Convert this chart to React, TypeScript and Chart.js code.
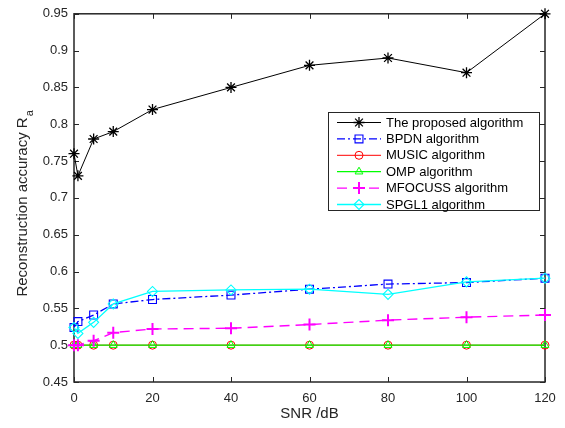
import React, { useEffect, useRef } from 'react';
import { Chart, registerables } from 'chart.js';
import { drawPoint } from 'chart.js/helpers';

Chart.register(...registerables);

const snr = [0, 1, 5, 10, 20, 40, 60, 80, 100, 120];
const proposed = [0.76, 0.73, 0.78, 0.79, 0.82, 0.85, 0.88, 0.89, 0.87, 0.95];
const bpdn = [0.524, 0.532, 0.541, 0.556, 0.562, 0.568, 0.576, 0.583, 0.585, 0.591];
const music = [0.5, 0.5, 0.5, 0.5, 0.5, 0.5, 0.5, 0.5, 0.5, 0.5];
const omp = [0.5, 0.5, 0.5, 0.5, 0.5, 0.5, 0.5, 0.5, 0.5, 0.5];
const mfocuss = [0.5, 0.5, 0.506, 0.517, 0.522, 0.523, 0.528, 0.534, 0.538, 0.541];
const spgl1 = [0.524, 0.516, 0.531, 0.556, 0.573, 0.575, 0.576, 0.569, 0.586, 0.591];

const seriesNames = [
  'The proposed algorithm',
  'BPDN algorithm',
  'MUSIC algorithm',
  'OMP algorithm',
  'MFOCUSS algorithm',
  'SPGL1 algorithm',
];

const xTicks = [0, 20, 40, 60, 80, 100, 120];
const yTicks = [0.45, 0.5, 0.55, 0.6, 0.65, 0.7, 0.75, 0.8, 0.85, 0.9, 0.95];
const yTickLabels = ['0.45', '0.5', '0.55', '0.6', '0.65', '0.7', '0.75', '0.8', '0.85', '0.9', '0.95'];
const xTitle = 'SNR /dB';
const yTitle = 'Reconstruction accuracy R';
const yTitleSub = 'a';

const FONT = '"Liberation Sans", Arial, Helvetica, sans-serif';
const INK = '#262626';

export default function App() {
  const ref = useRef<HTMLCanvasElement>(null);

  useEffect(() => {
    const canvas = ref.current;
    if (!canvas) return;

    const mk = (
      i: number,
      data: number[],
      color: string,
      style: any,
      radius: number,
      dash: number[],
      width: number,
      markerWidth: number
    ) => ({
      label: seriesNames[i],
      data: snr.map((x, k) => ({ x, y: data[k] })),
      borderColor: color,
      backgroundColor: 'rgba(0,0,0,0)',
      pointBackgroundColor: 'rgba(0,0,0,0)',
      pointBorderColor: color,
      pointStyle: style,
      pointRadius: radius,
      pointBorderWidth: markerWidth,
      borderWidth: width,
      borderDash: dash,
      tension: 0,
      fill: false,
      clip: false as any,
      order: 6 - i,
    });

    const datasets = [
      mk(0, proposed, '#000000', 'star', 5.5, [], 1, 1.3),
      mk(1, bpdn, '#0000ff', 'rect', 5.6, [8, 3, 2, 3], 1.3, 1.1),
      mk(2, music, '#ff0000', 'circle', 4, [], 1, 1),
      mk(3, omp, '#00ff00', 'triangle', 4.5, [], 1.3, 1),
      mk(4, mfocuss, '#ff00ff', 'cross', 6, [10, 6], 1.4, 2),
      mk(5, spgl1, '#00ffff', 'rectRot', 5, [], 1.3, 1.1),
    ];

    const axesPlugin = {
      id: 'matlabAxes',
      beforeDatasetsDraw(chart: any) {
        const { ctx, chartArea } = chart;
        const { left, right, top, bottom } = chartArea;
        const xs = chart.scales.x;
        const ys = chart.scales.y;
        ctx.save();
        ctx.strokeStyle = INK;
        ctx.lineWidth = 1.5;
        ctx.strokeRect(left, top, right - left, bottom - top);
        ctx.lineWidth = 1;
        ctx.beginPath();
        const tl = 5;
        xTicks.forEach((v) => {
          const px = Math.round(xs.getPixelForValue(v)) + 0.5;
          ctx.moveTo(px, bottom);
          ctx.lineTo(px, bottom - tl);
          ctx.moveTo(px, top);
          ctx.lineTo(px, top + tl);
        });
        yTicks.forEach((v) => {
          const py = Math.round(ys.getPixelForValue(v)) + 0.5;
          ctx.moveTo(left, py);
          ctx.lineTo(left + tl, py);
          ctx.moveTo(right, py);
          ctx.lineTo(right - tl, py);
        });
        ctx.stroke();
        ctx.restore();
      },
      afterDraw(chart: any) {
        const { ctx, chartArea } = chart;
        ctx.save();
        ctx.fillStyle = INK;
        ctx.font = `15px ${FONT}`;
        ctx.textAlign = 'center';
        ctx.textBaseline = 'alphabetic';
        ctx.fillText(xTitle, (chartArea.left + chartArea.right) / 2, 418);

        ctx.save();
        ctx.translate(27, (chartArea.top + chartArea.bottom) / 2 + 6);
        ctx.rotate(-Math.PI / 2);
        ctx.font = `15px ${FONT}`;
        const w1 = ctx.measureText(yTitle).width;
        ctx.font = `11px ${FONT}`;
        const w2 = ctx.measureText(yTitleSub).width;
        const start = -(w1 + w2) / 2;
        ctx.textAlign = 'left';
        ctx.font = `15px ${FONT}`;
        ctx.fillText(yTitle, start, 0);
        ctx.font = `11px ${FONT}`;
        ctx.fillText(yTitleSub, start + w1 + 1, 6);
        ctx.restore();

        const bx = 328, by = 112, bw = 211, bh = 98;
        ctx.fillStyle = '#ffffff';
        ctx.fillRect(bx, by, bw, bh);
        ctx.strokeStyle = INK;
        ctx.lineWidth = 1;
        ctx.strokeRect(bx + 0.5, by + 0.5, bw, bh);
        datasets.forEach((ds, i) => {
          const cy = 122.5 + i * 16.4;
          ctx.save();
          ctx.strokeStyle = ds.borderColor;
          ctx.lineWidth = ds.borderWidth;
          ctx.setLineDash(ds.borderDash);
          ctx.beginPath();
          ctx.moveTo(337, cy);
          ctx.lineTo(381, cy);
          ctx.stroke();
          ctx.setLineDash([]);
          ctx.fillStyle = 'rgba(0,0,0,0)';
          ctx.lineWidth = ds.pointBorderWidth;
          drawPoint(ctx, { pointStyle: ds.pointStyle, radius: ds.pointRadius, rotation: 0, borderWidth: ds.pointBorderWidth } as any, 359, cy);
          ctx.restore();
          ctx.fillStyle = '#000000';
          ctx.font = `13px ${FONT}`;
          ctx.textAlign = 'left';
          ctx.textBaseline = 'middle';
          ctx.fillText(ds.label, 386, cy + 0.5);
        });
        ctx.restore();
      },
    };

    const chart = new Chart(canvas, {
      type: 'line',
      data: { datasets: datasets as any },
      options: {
        responsive: false,
        animation: false,
        devicePixelRatio: 1,
        layout: { padding: { top: 10, right: 20, left: 0, bottom: 0 } },
        plugins: {
          legend: { display: false },
          tooltip: { enabled: false },
          title: { display: false },
        },
        scales: {
          x: {
            type: 'linear',
            min: 0,
            max: 120,
            grid: { display: false, drawTicks: false },
            border: { display: false },
            ticks: {
              padding: 9,
              color: INK,
              font: { family: FONT, size: 13 },
              autoSkip: false,
              maxRotation: 0,
              callback: (v: any) => String(v),
            },
            afterBuildTicks: (s: any) => {
              s.ticks = xTicks.map((v) => ({ value: v }));
            },
            afterFit: (s: any) => {
              s.height = 46;
            },
          },
          y: {
            type: 'linear',
            min: 0.45,
            max: 0.95,
            grid: { display: false, drawTicks: false },
            border: { display: false },
            ticks: {
              padding: 6,
              color: INK,
              font: { family: FONT, size: 13 },
              autoSkip: false,
              callback: (v: any) => {
                const idx = yTicks.findIndex((t) => Math.abs(t - Number(v)) < 1e-6);
                return idx >= 0 ? yTickLabels[idx] : '';
              },
            },
            afterBuildTicks: (s: any) => {
              s.ticks = yTicks.map((v) => ({ value: v }));
            },
            afterFit: (s: any) => {
              s.width = 74;
            },
          },
        },
      },
      plugins: [axesPlugin],
    });

    return () => chart.destroy();
  }, []);

  return (
    <div style={{ position: 'fixed', left: 0, top: 0, width: 565, height: 428, background: '#ffffff' }}>
      <canvas ref={ref} width={565} height={428} style={{ width: 565, height: 428, display: 'block' }} />
    </div>
  );
}
